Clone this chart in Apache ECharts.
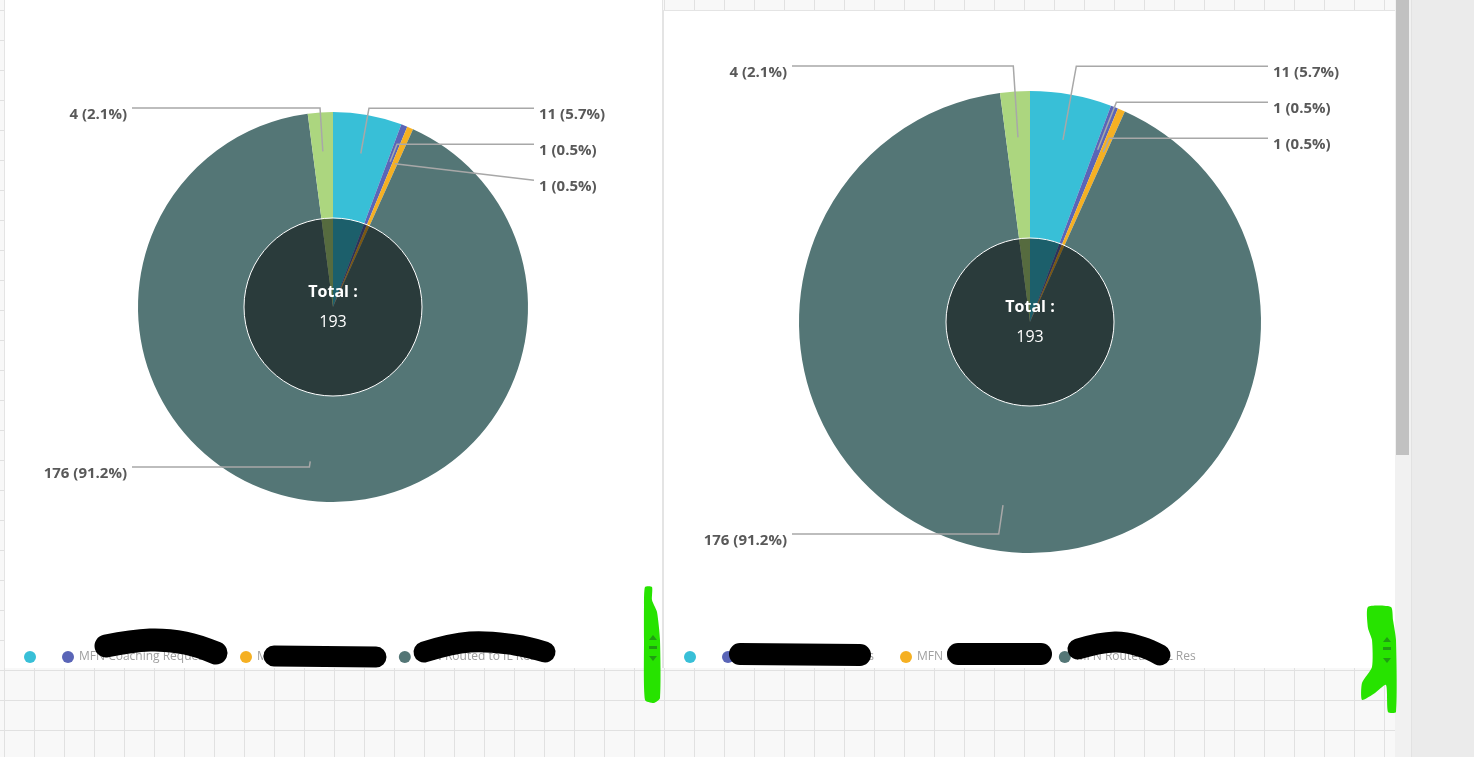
<!DOCTYPE html>
<html><head><meta charset="utf-8">
<script src="https://cdn.jsdelivr.net/npm/echarts@6/dist/echarts.min.js"></script>
<style>
html,body{margin:0;padding:0;width:1474px;height:757px;overflow:hidden;}
body{background-color:#f8f8f8;background-image:linear-gradient(to right,#e1e1e1 1px,transparent 1px),linear-gradient(to bottom,#e1e1e1 1px,transparent 1px);background-size:30px 30px;background-position:4px 10px;}
.panel{position:absolute;background:#fff;box-sizing:border-box;}
#pl{left:4px;top:0;width:659px;height:668px;border-left:1px solid #e4e4e4;border-right:1px solid #e4e4e4;}
#pr{left:663px;top:10px;width:732px;height:658px;border-left:1px solid #e4e4e4;border-top:1px solid #e4e4e4;}
#track{position:absolute;left:1395px;top:0;width:16px;height:757px;background:#f1f1f1;}
#thumb{position:absolute;left:1396px;top:0;width:13px;height:455px;background:#c1c1c1;}
#side{position:absolute;left:1411px;top:0;width:63px;height:757px;background:#ebebeb;border-left:1px solid #e2e2e2;}
#chart{position:absolute;left:0;top:0;width:1474px;height:757px;}
</style></head><body>
<div class="panel" id="pl"></div><div class="panel" id="pr"></div>
<div id="track"></div><div id="thumb"></div><div id="side"></div>
<div id="chart"></div>
<script>
// ---- data ----
const categories = ['MFN Enrolled', 'MFN Coaching Requests', 'MFN Direct Referrals', 'MFN Routed to IL Res', 'MFN Other'];
const leftValues = [11, 1, 1, 176, 4];
const rightValues = [11, 1, 1, 176, 4];
const legendNames = categories.slice(0, 4);
const sliceColors = ['#38bfd7', '#5a65b7', '#f5b023', '#547676', '#acd67f'];
const totalTitle = 'Total :';

const FONT = "'Open Sans', 'Noto Sans', sans-serif";

function buildPie(values, cfg) {
  const data = categories.map((n, i) => ({ name: n, value: values[i], itemStyle: { color: sliceColors[i] } }));
  const total = values.reduce((a, b) => a + b, 0);
  const cxAbs = cfg.left + cfg.center[0];
  const cyAbs = cfg.top + cfg.center[1];
  const base = { type: 'pie', left: cfg.left, top: cfg.top, width: cfg.width, height: cfg.height,
    center: cfg.center, startAngle: 90, clockwise: true, percentPrecision: 1 };
  return [
    Object.assign({}, base, {
      name: cfg.id + '-main', radius: [0, cfg.r], data: data, z: 2,
      label: { show: false }, labelLine: { show: false },
      emphasis: { disabled: true }, silent: true
    }),
    Object.assign({}, base, {
      name: cfg.id + '-total', radius: [0, cfg.rIn], z: 3, silent: true,
      data: [{ name: totalTitle, value: total }],
      itemStyle: { color: 'rgba(0,0,0,0.5)', borderColor: '#ffffff', borderWidth: 1 },
      emphasis: { disabled: true },
      label: { show: true, position: 'center',
        formatter: () => '{a|' + totalTitle + '}\n{b|' + total + '}',
        rich: {
          a: { color: '#fff', fontSize: 16, fontWeight: 'bold', fontFamily: FONT, lineHeight: 30 },
          b: { color: '#fff', fontSize: 16, fontFamily: FONT, lineHeight: 30 }
        } },
      labelLine: { show: false }
    }),
    Object.assign({}, base, {
      name: cfg.id + '-labels', radius: [0, cfg.rLabel], z: 4, silent: true,
      data: categories.map((n, i) => ({ name: n, value: values[i] })),
      itemStyle: { color: 'rgba(0,0,0,0)' },
      emphasis: { disabled: true },
      label: { show: true, position: 'outside', formatter: '{c} ({d}%)',
        color: '#595959', fontSize: 15, fontWeight: 'bold', fontFamily: FONT,
        lineHeight: 34 },
      labelLine: { show: true, length: cfg.len, length2: cfg.len2,
        lineStyle: { color: '#a8a8a8', width: 1.5 } },
      labelLayout: function (params) {
        const pts = params.labelLinePoints;
        if (!pts) return {};
        const isRight = pts[2][0] > pts[0][0];
        const endX = cxAbs + (isRight ? 1 : -1) * cfg.lineReach;
        const lineY = pts[2][1];
        const sx = pts[0][0], sy = pts[0][1];
        let ux = sx - cxAbs, uy = sy - cyAbs;
        const len = Math.sqrt(ux * ux + uy * uy) || 1;
        ux /= len; uy /= len;
        let bx = sx, by = sy;
        const dy = lineY - sy;
        if (Math.abs(uy) > 1e-6 && dy / uy > 0) {
          const t = dy / uy;
          bx = sx + ux * t; by = lineY;
        }
        return {
          x: endX + (isRight ? 5 : -5), y: lineY + 7,
          align: isRight ? 'left' : 'right', verticalAlign: 'middle',
          labelLinePoints: [[sx, sy], [bx, by], [endX, lineY]]
        };
      }
    })
  ];
}

const series = [].concat(
  buildPie(leftValues, { id: 'L', left: 4, top: 90, width: 900, height: 395, center: [329, 217], r: 195, rIn: 89, rLabel: 156, len: 46, len2: 170, lineReach: 201 }),
  buildPie(rightValues, { id: 'R', left: 664, top: 48, width: 900, height: 504, center: [366, 274], r: 231, rIn: 84, rLabel: 185, len: 75, len2: 192, lineReach: 238 })
);

const legendBase = { orient: 'horizontal', icon: 'circle', itemWidth: 12, itemHeight: 12, itemGap: 26,
  data: legendNames, selectedMode: false,
  formatter: n => (n === categories[0] ? '' : n),
  textStyle: { color: '#a0a0a0', fontSize: 12, fontFamily: FONT } };

function scribble(points, w) {
  return { type: 'polyline', z: 100, shape: { points: points, smooth: 0.4 },
    style: { stroke: '#000', lineWidth: w, lineCap: 'round', lineJoin: 'round', fill: null } };
}
function blob(points) {
  return { type: 'polygon', z: 100, shape: { points: points, smooth: 0.2 }, style: { fill: '#27e300' } };
}
function tri(x, y, up) {
  const p = up ? [[x - 4, y + 3], [x + 4, y + 3], [x, y - 2]] : [[x - 4, y - 2], [x + 4, y - 2], [x, y + 3]];
  return { type: 'polygon', z: 101, shape: { points: p }, style: { fill: '#1f9e12' } };
}

const option = {
  backgroundColor: 'transparent',
  animation: false,
  series: series,
  legend: [
    Object.assign({}, legendBase, { left: 19, top: 646 }),
    Object.assign({}, legendBase, { left: 679, top: 646 })
  ],
  graphic: [
    scribble([[106, 646], [150, 640], [185, 643], [216, 653]], 23),
    scribble([[274, 656], [376, 657]], 21),
    scribble([[424, 652], [470, 642], [515, 645], [545, 652]], 21),
    scribble([[740, 654], [860, 655]], 22),
    scribble([[958, 654], [1041, 654]], 22),
    scribble([[1078, 649], [1115, 642], [1142, 647], [1160, 655]], 21),
    blob([[645, 587], [652, 587], [652, 600], [657, 612], [660, 640], [660, 698], [654, 703], [645, 700], [644, 640], [644, 605]]),
    blob([[1368, 607], [1391, 607], [1393, 620], [1396, 640], [1396, 712], [1388, 712], [1386, 685], [1375, 693], [1362, 700], [1362, 683], [1372, 667], [1372, 640], [1368, 628]]),
    tri(653, 637, true), { type: 'rect', z: 101, shape: { x: 649, y: 646, width: 8, height: 3 }, style: { fill: '#1f9e12' } }, tri(653, 658, false),
    tri(1387, 639, true), { type: 'rect', z: 101, shape: { x: 1383, y: 647, width: 8, height: 3 }, style: { fill: '#1f9e12' } }, tri(1387, 660, false)
  ]
};

const chart = echarts.init(document.getElementById('chart'), null, { renderer: 'canvas' });
chart.setOption(option);
</script>
</body></html>
